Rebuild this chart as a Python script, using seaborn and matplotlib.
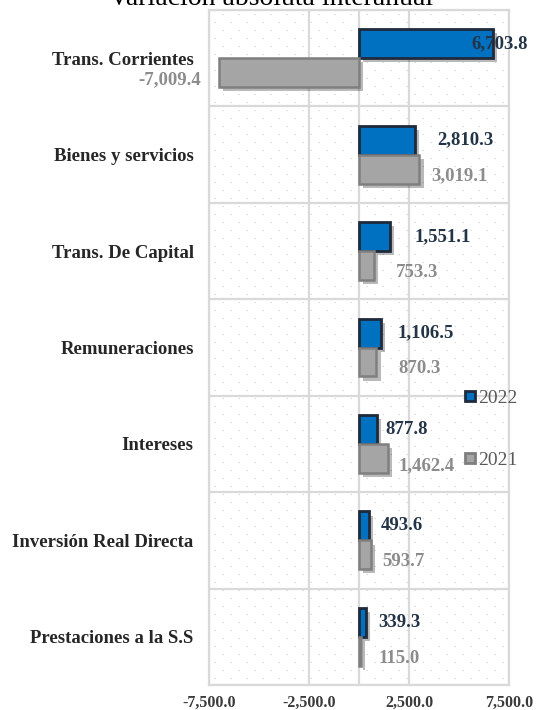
import numpy as np
import pandas as pd
import seaborn as sns
import matplotlib.pyplot as plt
import matplotlib.patheffects as pe
from matplotlib.lines import Line2D

categories = ["Trans. Corrientes", "Bienes y servicios", "Trans. De Capital",
              "Remuneraciones", "Intereses", "Inversión Real Directa",
              "Prestaciones a la S.S"]
vals_2022 = [6703.8, 2810.3, 1551.1, 1106.5, 877.8, 493.6, 339.3]
vals_2021 = [-7009.4, 3019.1, 753.3, 870.3, 1462.4, 593.7, 115.0]
years = ["2022", "2021"]
xticks = [-7500, -2500, 0, 2500, 7500]

# label x offsets in px (manual placement like the original)
off_2022 = [-22, 22, 24, 16, 9, 12, 12]
off_2021 = [-18, 12, 22, 22, 10, 11, 17]

df = pd.DataFrame({
    "cat": categories * 2,
    "year": [years[0]] * 7 + [years[1]] * 7,
    "val": vals_2022 + vals_2021,
})

sns.set_theme(style="white")
plt.rcParams["font.family"] = ["Liberation Serif", "DejaVu Serif"]
plt.rcParams["lines.scale_dashes"] = False

blue, blue_edge = "#0070C0", "#1F2A3C"
gray, gray_edge = "#A5A5A5", "#7F7F7F"
grid_c = "#D9D9D9"

fig = plt.figure(figsize=(5.42, 7.10), dpi=100)
ax = fig.add_axes([209 / 542, 1 - 685 / 710, 300 / 542, 675 / 710])

sns.barplot(data=df, x="val", y="cat", hue="year", hue_order=years,
            order=categories, orient="h", width=0.6, ax=ax, saturation=1,
            palette=[blue, gray], legend=False, zorder=3)

shadow = [pe.SimplePatchShadow(offset=(3, -3), shadow_rgbFace="k", alpha=0.3), pe.Normal()]
for cont, ec, lw in zip(ax.containers, [blue_edge, gray_edge], [2.0, 1.8]):
    for bar in cont:
        bar.set_edgecolor(ec)
        bar.set_linewidth(lw)
        bar.set_path_effects(shadow)

# data labels
for cont, vals, offs, col, dy in zip(ax.containers, [vals_2022, vals_2021],
                                     [off_2022, off_2021],
                                     ["#243447", "#8C8C8C"], [0, -5]):
    for bar, v, o in zip(cont, vals, offs):
        yc = bar.get_y() + bar.get_height() / 2
        ha = "right" if v < 0 else "left"
        ax.annotate(f"{v:,.1f}", xy=(v, yc), xytext=(o / 1.389, dy),
                    textcoords="offset points", ha=ha, va="center",
                    fontsize=13.5, fontweight="bold", color=col,
                    annotation_clip=False, zorder=5)

ax.set_xlim(-7500, 7500)
ax.set_ylim(6.5, -0.5)
ax.set_xticks(xticks)
ax.set_xticklabels(["" if t == 0 else f"{t:,.1f}" for t in xticks],
                   fontsize=11.5, fontweight="bold", color="#3A3A3A")
ax.set_yticks(range(len(categories)))
ax.set_yticklabels(categories, fontsize=13.5, fontweight="bold", color="#262626")
ax.set_yticks(np.arange(-0.5, 7, 1), minor=True)
ax.tick_params(axis="x", length=0, pad=7)
ax.tick_params(axis="y", length=0, pad=11)
ax.tick_params(which="minor", length=0)
ax.grid(axis="x", which="major", color=grid_c, lw=1.6, zorder=1)
ax.grid(axis="y", which="minor", color=grid_c, lw=1.6, zorder=1)
ax.grid(axis="y", which="major", visible=False)
ax.set_axisbelow(True)
for s in ax.spines.values():
    s.set_color(grid_c)
    s.set_linewidth(1.6)
ax.set_xlabel("")
ax.set_ylabel("")

# dotted background pattern (staggered)
h_px = 675
for k, ypx in enumerate(np.arange(4, h_px, 8)):
    offset = 0 if k % 2 == 0 else 5.76
    ax.plot([0, 1], [1 - ypx / h_px] * 2, transform=ax.transAxes,
            color="#C8C8C8", lw=0.8, ls=(offset + 2, (0.72, 10.8)),
            zorder=0.5)

handles = [Line2D([], [], marker="s", ls="", markerfacecolor=blue,
                  markeredgecolor=blue_edge, markersize=7, markeredgewidth=2),
           Line2D([], [], marker="s", ls="", markerfacecolor=gray,
                  markeredgecolor=gray_edge, markersize=7, markeredgewidth=2)]
leg = fig.legend(handles, years, loc="upper left",
                 bbox_to_anchor=(464 / 542, 1 - 389 / 710), frameon=False,
                 fontsize=14, labelspacing=2.3, handlelength=0.6,
                 handletextpad=0.15, borderpad=0, borderaxespad=0)
for t in leg.get_texts():
    t.set_color("#595959")

fig.text(0.5, 1 - 5 / 710, "Variación absoluta interanual", ha="center",
         va="baseline", fontsize=20, color="#000000")

fig.savefig("out.png", dpi=100)
